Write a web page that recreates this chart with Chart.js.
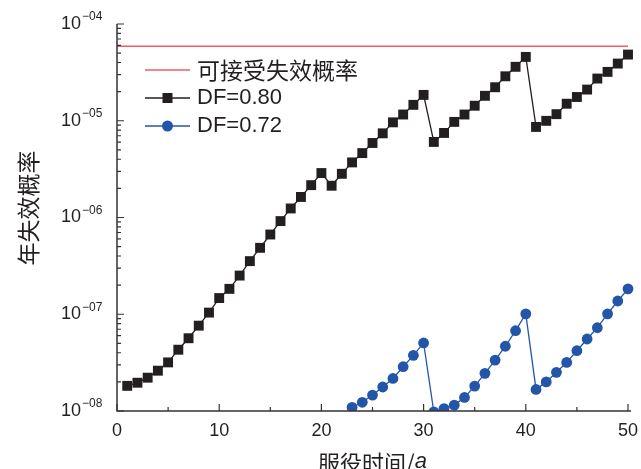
<!DOCTYPE html>
<html>
<head>
<meta charset="utf-8">
<script src="https://cdn.jsdelivr.net/npm/chart.js@4.4.0/dist/chart.umd.min.js"></script>
<style>
  html, body { margin: 0; padding: 0; background: #fff; }
  #wrap { width: 641px; height: 469px; position: relative; }
</style>
</head>
<body>
<div id="wrap"><canvas id="chart"></canvas></div>
<script>
// ===== Data =====
const years = [1, 2, 3, 4, 5, 6, 7, 8, 9, 10,
    11, 12, 13, 14, 15, 16, 17, 18, 19, 20,
    21, 22, 23, 24, 25, 26, 27, 28, 29, 30,
    31, 32, 33, 34, 35, 36, 37, 38, 39, 40,
    41, 42, 43, 44, 45, 46, 47, 48, 49, 50];

const df080 = [1.82e-8, 1.96e-8, 2.21e-8, 2.61e-8, 3.18e-8, 4.30e-8, 5.65e-8, 7.62e-8, 1.04e-7, 1.47e-7,
    1.83e-7, 2.51e-7, 3.54e-7, 4.86e-7, 6.67e-7, 9.18e-7, 1.24e-6, 1.63e-6, 2.16e-6, 2.88e-6,
    2.13e-6, 2.83e-6, 3.71e-6, 4.63e-6, 5.89e-6, 7.41e-6, 9.63e-6, 1.16e-5, 1.46e-5, 1.85e-5,
    6.04e-6, 7.48e-6, 9.73e-6, 1.16e-5, 1.43e-5, 1.81e-5, 2.22e-5, 2.88e-5, 3.61e-5, 4.57e-5,
    8.63e-6, 9.98e-6, 1.17e-5, 1.50e-5, 1.76e-5, 2.10e-5, 2.73e-5, 3.20e-5, 3.90e-5, 4.83e-5];

// values before year 23 lie below the axis and are not visible
const df072 = [null, null, null, null, null, null, null, null, null, null,
    null, null, null, null, null, null, null, null, null, null,
    null, null, 1.09e-8, 1.23e-8, 1.46e-8, 1.77e-8, 2.17e-8, 2.87e-8, 3.76e-8, 5.05e-8,
    9.8e-9, 1.06e-8, 1.15e-8, 1.38e-8, 1.81e-8, 2.45e-8, 3.36e-8, 4.67e-8, 6.76e-8, 1.01e-7,
    1.67e-8, 2.00e-8, 2.51e-8, 3.18e-8, 4.20e-8, 5.55e-8, 7.26e-8, 1.01e-7, 1.37e-7, 1.83e-7];

const limitX = [0, 50];
const limitY = [5.9e-5, 5.9e-5];

const xTickValues = [0, 10, 20, 30, 40, 50];
const xMinorValues = [5, 15, 25, 35, 45];
const yExponents = [-8, -7, -6, -5, -4];

const legendLabels = ['可接受失效概率', 'DF=0.80', 'DF=0.72'];
const xTitle = '服役时间/';
const xTitleUnit = 'a';
const yTitle = '年失效概率';

const RED = '#ef5b60';
const BLACK = '#231f20';
const BLUE = '#2356a8';
const TEXT = '#231f20';
const NUM_FONT = '"Liberation Sans", Arial, sans-serif';
const CJK_FONT = '"Noto Sans CJK SC", "Noto Sans", sans-serif';

// ===== Axes, ticks, labels, legend drawn by hand =====
const axisPlugin = {
    id: 'axisPlugin',
    afterDraw(chart) {
        const ctx = chart.ctx;
        const area = chart.chartArea;
        const xs = chart.scales.x;
        const ys = chart.scales.y;
        ctx.save();

        // axis lines
        ctx.strokeStyle = '#333';
        ctx.lineWidth = 1.5;
        ctx.beginPath();
        ctx.moveTo(area.left, area.top);
        ctx.lineTo(area.left, area.bottom);
        ctx.lineTo(area.right + 3, area.bottom);
        ctx.stroke();

        // x ticks (inside)
        ctx.lineWidth = 1.2;
        ctx.beginPath();
        xTickValues.forEach(v => {
            const px = xs.getPixelForValue(v);
            ctx.moveTo(px, area.bottom);
            ctx.lineTo(px, area.bottom - 7);
        });
        xMinorValues.forEach(v => {
            const px = xs.getPixelForValue(v);
            ctx.moveTo(px, area.bottom);
            ctx.lineTo(px, area.bottom - 4);
        });
        // y ticks (inside), major + log minor
        yExponents.forEach((e, i) => {
            const py = ys.getPixelForValue(Math.pow(10, e));
            ctx.moveTo(area.left, py);
            ctx.lineTo(area.left + 7, py);
            if (i < yExponents.length - 1) {
                for (let m = 2; m <= 9; m++) {
                    const pm = ys.getPixelForValue(m * Math.pow(10, e));
                    ctx.moveTo(area.left, pm);
                    ctx.lineTo(area.left + 4, pm);
                }
            }
        });
        ctx.stroke();

        // x tick labels
        ctx.fillStyle = TEXT;
        ctx.font = '18px ' + NUM_FONT;
        ctx.textAlign = 'center';
        ctx.textBaseline = 'middle';
        xTickValues.forEach(v => {
            ctx.fillText(String(v), xs.getPixelForValue(v), area.bottom + 20);
        });

        // y tick labels 10^-0n
        yExponents.forEach(e => {
            const py = ys.getPixelForValue(Math.pow(10, e));
            ctx.font = '18px ' + NUM_FONT;
            ctx.textAlign = 'right';
            ctx.textBaseline = 'middle';
            ctx.fillText('10', 81, py);
            ctx.font = '12px ' + NUM_FONT;
            ctx.textAlign = 'left';
            ctx.fillText('\u2212' + '0' + Math.abs(e), 82, py - 7);
        });

        // axis titles
        ctx.font = '22px ' + CJK_FONT;
        const w1 = ctx.measureText(xTitle).width;
        ctx.font = 'italic 22px ' + NUM_FONT;
        const w2 = ctx.measureText(xTitleUnit).width;
        const startX = (area.left + area.right) / 2 - (w1 + w2) / 2;
        ctx.textAlign = 'left';
        ctx.textBaseline = 'middle';
        ctx.font = '22px ' + CJK_FONT;
        ctx.fillText(xTitle, startX, area.bottom + 52);
        ctx.font = 'italic 22px ' + NUM_FONT;
        ctx.fillText(xTitleUnit, startX + w1, area.bottom + 51);

        ctx.save();
        ctx.translate(28, 208);
        ctx.rotate(-Math.PI / 2);
        ctx.font = '23px ' + CJK_FONT;
        ctx.textAlign = 'center';
        ctx.textBaseline = 'middle';
        ctx.fillText(yTitle, 0, 0);
        ctx.restore();

        // legend
        const lx0 = 145, lx1 = 190, tx = 197;
        const rows = [70, 98, 126];
        const colors = [RED, BLACK, BLUE];
        rows.forEach((ry, i) => {
            ctx.strokeStyle = colors[i];
            ctx.lineWidth = 1.4;
            ctx.beginPath();
            ctx.moveTo(lx0, ry);
            ctx.lineTo(lx1, ry);
            ctx.stroke();
            ctx.fillStyle = colors[i];
            const cx = (lx0 + lx1) / 2;
            if (i === 1) {
                ctx.fillRect(cx - 5, ry - 5, 10, 10);
            } else if (i === 2) {
                ctx.beginPath();
                ctx.arc(cx, ry, 5.5, 0, Math.PI * 2);
                ctx.fill();
            }
            ctx.fillStyle = TEXT;
            ctx.textAlign = 'left';
            ctx.textBaseline = 'middle';
            ctx.font = (i === 0 ? '23px ' + CJK_FONT : '22px ' + NUM_FONT);
            ctx.fillText(legendLabels[i], tx, ry);
        });

        ctx.restore();
    }
};

const toPoints = (xsArr, ysArr) => xsArr.map((x, i) => ({ x, y: ysArr[i] }));

const ctx = document.getElementById('chart').getContext('2d');
new Chart(ctx, {
    type: 'line',
    data: {
        datasets: [
            {
                label: legendLabels[0],
                data: toPoints(limitX, limitY),
                borderColor: RED,
                borderWidth: 1.5,
                pointRadius: 0
            },
            {
                label: legendLabels[1],
                data: toPoints(years, df080),
                borderColor: BLACK,
                backgroundColor: BLACK,
                borderWidth: 1.3,
                pointStyle: 'rect',
                pointRadius: 7,
                pointBorderWidth: 0,
                spanGaps: false
            },
            {
                label: legendLabels[2],
                data: toPoints(years, df072),
                borderColor: BLUE,
                backgroundColor: BLUE,
                borderWidth: 1.3,
                pointStyle: 'circle',
                pointRadius: 5.4,
                pointBorderWidth: 0,
                spanGaps: false
            }
        ]
    },
    options: {
        responsive: true,
        maintainAspectRatio: false,
        animation: false,
        devicePixelRatio: 1,
        datasets: { line: { clip: { left: 10, right: 10, top: 10, bottom: 0 } } },
        layout: { padding: { left: 117, right: 13, top: 24, bottom: 58 } },
        plugins: {
            legend: { display: false },
            tooltip: { enabled: false }
        },
        scales: {
            x: { type: 'linear', min: 0, max: 50, display: false },
            y: { type: 'logarithmic', min: 1e-8, max: 1e-4, display: false }
        }
    },
    plugins: [axisPlugin]
});
</script>
</body>
</html>
